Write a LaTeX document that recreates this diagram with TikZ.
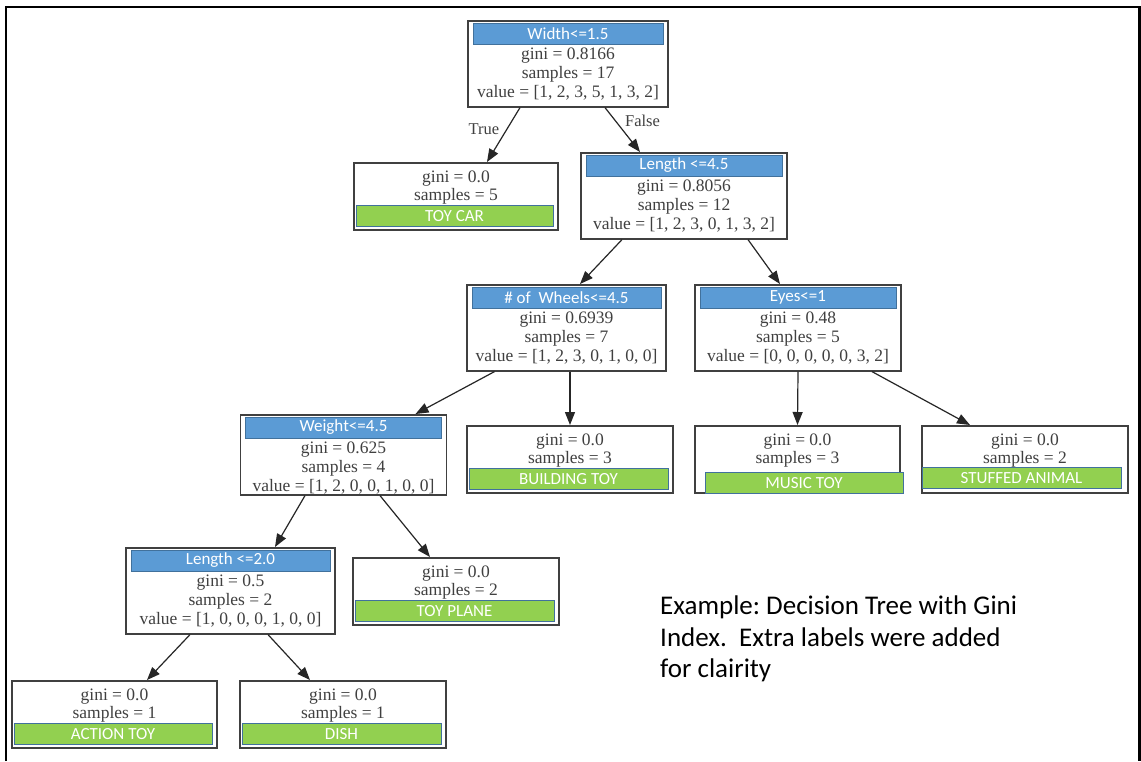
\documentclass[tikz,border=0pt]{standalone}
\usepackage{fontspec}
\setmainfont{Liberation Serif}
\newfontfamily\calibri{Carlito}
\usetikzlibrary{arrows.meta,positioning,fit}

\definecolor{headblue}{HTML}{5B9BD5}
\definecolor{leafgreen}{HTML}{92D050}
\definecolor{baredge}{HTML}{41719C}
\definecolor{treegray}{HTML}{404040}

\tikzset{
  treebox/.style={draw=black!75, line width=1.6pt, minimum width=206pt, minimum height=86pt, inner sep=0pt},
  leafbox/.style={treebox, minimum height=67pt},
  headbar/.style={fill=headblue, draw=baredge, line width=0.6pt, inner sep=0pt},
  classbar/.style={headbar, fill=leafgreen},
  bartext/.style={text=white, inner sep=0pt, font=\calibri\fontsize{17}{18}\selectfont},
  treetext/.style={text=treegray, font=\fontsize{17.5}{19}\selectfont, inner sep=0pt, text height=0.68em, text depth=0.22em},
  edge/.style={draw=black!85, line width=1.2pt, -{Triangle[length=13pt,width=10pt]}},
  edgelabel/.style={text=treegray, font=\fontsize{16.5}{18}\selectfont, inner sep=0pt},
  frame/.style={line width=2.5pt},
  caption/.style={align=left, inner sep=0pt, font=\calibri\fontsize{27}{31.5}\selectfont\frenchspacing}
}

% split node: name, x, top y, box options, header, gini, samples, value
\newcommand{\splitnode}[8]{%
  \node[treebox, anchor=north, #4] (#1) at (#2,#3) {};
  \node[headbar, fit={([xshift=6pt,yshift=-3pt]#1.north west) ([xshift=-6pt,yshift=-24pt]#1.north east)}] (#1-head) {};
  \node[bartext] (#1-htext) at (#1-head.center) {#5};
  \node[treetext] (#1-gini) at ([yshift=-37pt]#1.north) {gini = #6};
  \node[treetext] (#1-samples) at ([yshift=-56pt]#1.north) {samples = #7};
  \node[treetext] (#1-value) at ([yshift=-75pt]#1.north) {value = #8};
}
% leaf node: name, x, top y, box options, gini, samples, class, bar shift
\newcommand{\leafnode}[8]{%
  \node[leafbox, anchor=north, #4] (#1) at (#2,#3) {};
  \node[treetext] (#1-gini) at ([yshift=-18pt]#1.north) {gini = #5};
  \node[treetext] (#1-samples) at ([yshift=-36pt]#1.north) {samples = #6};
  \node[classbar, fit={([shift={(#8)},xshift=3pt,yshift=4pt]#1.south west) ([shift={(#8)},xshift=-6pt,yshift=25pt]#1.south east)}] (#1-bar) {};
  \node[bartext] (#1-class) at (#1-bar.center) {#7};
}

\begin{document}
\begin{tikzpicture}[x=1pt,y=-1pt]
\useasboundingbox (0,0) rectangle (1141,761);
\fill[white] (0,0) rectangle (1141,761);
\draw[frame] (6,761) -- (6,7) -- (1139.5,7) -- (1139.5,761);

% tree
\splitnode{root}{568}{20}{minimum width=200pt}{Width<=1.5}{0.8166}{17}{[1, 2, 3, 5, 1, 3, 2]}
\leafnode{toycar}{456}{162}{minimum width=204pt}{0.0}{5}{TOY CAR}{0pt,0pt}
\splitnode{len45}{684}{152}{}{Length <=4.5}{0.8056}{12}{[1, 2, 3, 0, 1, 3, 2]}
\splitnode{wheels}{566.5}{284}{minimum width=199pt}{\# of\ \ Wheels<=4.5}{0.6939}{7}{[1, 2, 3, 0, 1, 0, 0]}
\splitnode{eyes}{798}{284}{}{Eyes<=1}{0.48}{5}{[0, 0, 0, 0, 0, 3, 2]}
\splitnode{weight}{343.5}{414}{minimum height=80pt}{Weight<=4.5}{0.625}{4}{[1, 2, 0, 0, 1, 0, 0]}
\leafnode{building}{570}{425}{}{0.0}{3}{BUILDING TOY}{0pt,0pt}
\leafnode{music}{797.5}{425}{minimum width=205pt}{0.0}{3}{MUSIC TOY}{8pt,-4pt}
\leafnode{stuffed}{1025}{425}{}{0.0}{2}{STUFFED ANIMAL}{-2pt,1pt}
\splitnode{len20}{230.5}{547}{minimum width=209pt}{Length <=2.0}{0.5}{2}{[1, 0, 0, 0, 1, 0, 0]}
\leafnode{plane}{456}{557}{}{0.0}{2}{TOY PLANE}{0pt,0pt}
\leafnode{action}{114.5}{680}{minimum width=205pt}{0.0}{1}{ACTION TOY}{0pt,0pt}
\leafnode{dish}{343}{680}{}{0.0}{1}{DISH}{0pt,0pt}

% edges
\draw[edge] ([xshift=-48pt]root.south) -- ([xshift=31pt]toycar.north)
  node[edgelabel, pos=0.4, left=7pt] (truelab) {True};
\draw[edge] ([xshift=37pt]root.south) -- ([xshift=-44pt]len45.north)
  node[edgelabel, pos=0.3, right=9pt] (falselab) {False};
\draw[edge] ([xshift=-62pt]len45.south) -- ([xshift=13.5pt]wheels.north);
\draw[edge] ([xshift=64pt]len45.south) -- ([xshift=-18pt]eyes.north);
\draw[edge] ([xshift=-72pt]wheels.south) -- ([xshift=72pt]weight.north);
\draw[edge] ([xshift=3.5pt]wheels.south) -- (building.north);
\draw[edge] (eyes.south) -- (music.north);
\draw[edge] ([xshift=74pt]eyes.south) -- ([xshift=-55pt]stuffed.north);
\draw[edge] ([xshift=-38.5pt]weight.south) -- ([xshift=44.5pt]len20.north);
\draw[edge] ([xshift=36.5pt]weight.south) -- ([xshift=-26pt]plane.north);
\draw[edge] ([xshift=-40.5pt]len20.south) -- ([xshift=32.5pt]action.north);
\draw[edge] ([xshift=37.5pt]len20.south) -- ([xshift=-33pt]dish.north);

% note
\node[caption, anchor=north west] (note) at (660,596)
  {Example: Decision Tree with Gini\\Index.\ \ Extra labels were added\\for clairity};
\end{tikzpicture}
\end{document}
